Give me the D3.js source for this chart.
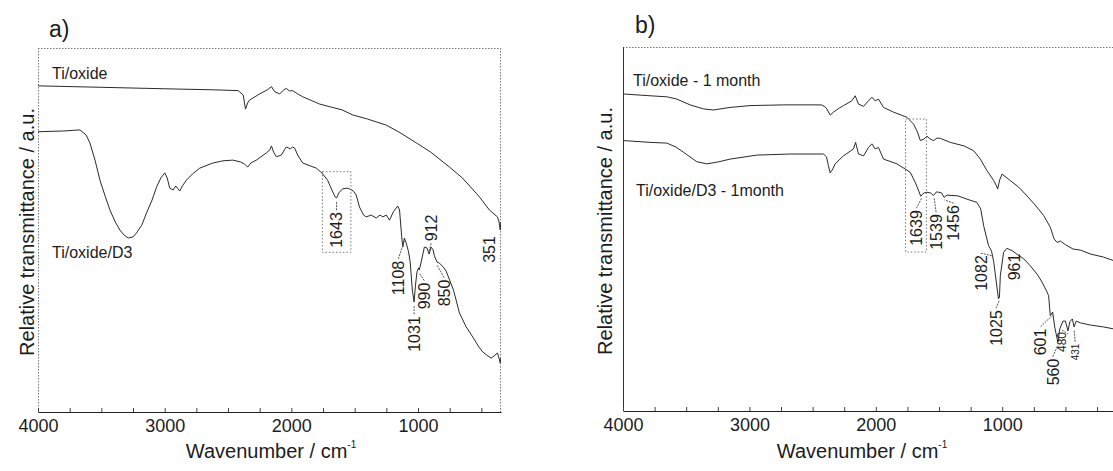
<!DOCTYPE html>
<html><head><meta charset="utf-8">
<script src="https://cdn.jsdelivr.net/npm/d3@7"></script>
<style>
body{margin:0;background:#fff}
svg{display:block}
text{font-family:"Liberation Sans",Arial,Helvetica,sans-serif;fill:#1c1c1c}
</style>
</head><body>
<svg id="chart" width="1113" height="471"></svg>
<script>
// ---------- DATA (wavenumber cm-1, relative transmittance a.u.) ----------
const aOxide = [[4000,89.6],[3500,89.2],[3000,88.8],[2600,88.5],[2420,88.3],[2380,87.1],[2362,83.2],[2345,84.9],[2330,85.7],[2250,87.4],[2190,88.5],[2157,89.4],[2132,88.0],[2092,87.4],[2060,88.5],[2040,88.9],[2015,88.2],[1990,88.3],[1950,87.4],[1910,86.6],[1850,85.7],[1777,84.6],[1700,83.9],[1600,83.0],[1515,81.6],[1400,80.5],[1250,78.8],[1150,76.9],[1012,73.9],[900,71.4],[752,67.3],[650,64.3],[515,59.1],[437,55.5],[400,54.4],[373,53.6],[360,52.2],[351,50.0],[346,52.2]];
const aOxideD3 = [[4000,77.0],[3800,77.2],[3669,77.5],[3620,76.1],[3590,73.9],[3550,69.2],[3511,63.7],[3470,59.3],[3432,55.5],[3390,52.2],[3354,50.0],[3320,48.6],[3288,47.8],[3250,48.1],[3222,49.2],[3180,51.4],[3143,54.7],[3100,58.2],[3064,61.8],[3030,64.3],[2999,65.7],[2980,64.3],[2960,61.5],[2933,61.0],[2912,62.1],[2881,60.7],[2860,62.1],[2828,63.7],[2780,65.4],[2723,67.0],[2620,68.4],[2540,69.0],[2463,69.2],[2400,68.7],[2370,68.1],[2344,67.3],[2320,68.4],[2276,69.2],[2197,71.2],[2170,72.0],[2157,73.1],[2140,71.4],[2118,70.1],[2079,70.6],[2055,72.0],[2040,72.8],[2020,72.5],[2008,72.3],[1990,72.8],[1974,72.5],[1950,70.6],[1910,68.4],[1850,67.6],[1803,67.0],[1760,65.7],[1714,63.7],[1680,61.0],[1655,59.1],[1643,58.8],[1625,60.2],[1596,61.3],[1560,61.5],[1541,61.3],[1510,60.7],[1488,59.6],[1462,56.3],[1430,54.1],[1409,53.6],[1370,54.1],[1330,53.3],[1300,54.1],[1278,53.6],[1250,54.1],[1225,52.7],[1195,55.0],[1160,56.6],[1146,55.5],[1130,48.6],[1120,45.3],[1108,47.8],[1093,46.4],[1075,44.0],[1062,41.2],[1045,33.5],[1031,30.2],[1020,34.9],[1008,38.5],[995,39.6],[990,39.0],[975,41.2],[950,45.3],[930,45.1],[912,43.4],[897,45.3],[880,44.5],[871,42.9],[850,41.2],[831,40.9],[800,39.8],[778,38.7],[720,33.5],[673,27.2],[620,23.4],[568,20.6],[520,17.9],[489,16.5],[460,15.7],[423,14.8],[400,15.4],[373,16.2],[360,14.8],[352,13.5],[346,14.8]];
const bOxide = [[4000,87.1],[3786,86.6],[3650,86.3],[3575,85.7],[3469,84.1],[3364,83.0],[3285,82.7],[3153,83.4],[2995,83.9],[2731,84.1],[2430,84.1],[2400,83.5],[2388,83.0],[2361,81.3],[2335,82.1],[2290,83.2],[2256,83.9],[2190,85.2],[2163,86.6],[2137,84.3],[2097,83.7],[2058,85.2],[2031,86.2],[2005,85.2],[1979,85.7],[1939,83.4],[1860,82.1],[1754,80.7],[1701,78.8],[1670,76.6],[1648,74.3],[1620,74.7],[1595,75.5],[1570,74.7],[1542,74.3],[1515,75.0],[1490,74.9],[1411,73.8],[1300,72.8],[1226,71.5],[1173,69.2],[1120,66.0],[1067,63.3],[1045,61.8],[1036,61.0],[1020,63.5],[1001,65.1],[936,63.3],[870,61.5],[804,59.1],[740,56.6],[672,53.7],[620,50.5],[590,47.3],[566,46.3],[540,46.7],[501,45.7],[440,44.5],[380,44.2],[300,43.1],[200,42.3],[110,41.2]];
const bOxideD3 = [[4000,74.3],[3786,73.8],[3654,73.6],[3580,72.5],[3522,71.1],[3417,68.5],[3337,67.9],[3250,68.4],[3153,69.2],[2942,70.3],[2678,70.6],[2414,70.6],[2390,69.8],[2375,67.4],[2361,65.4],[2340,66.5],[2322,67.9],[2256,70.1],[2177,72.0],[2160,73.8],[2137,70.6],[2097,70.1],[2058,72.4],[2031,73.4],[2005,72.0],[1979,72.4],[1939,69.2],[1833,67.9],[1728,65.6],[1688,62.8],[1660,60.4],[1645,59.0],[1620,59.9],[1595,60.1],[1565,59.9],[1545,59.2],[1520,60.2],[1503,60.1],[1480,59.9],[1460,58.7],[1437,59.3],[1350,59.1],[1279,58.2],[1200,57.3],[1170,55.5],[1147,50.9],[1108,45.4],[1085,44.0],[1067,40.9],[1045,34.9],[1030,30.8],[1022,31.3],[1015,37.2],[989,43.6],[963,44.7],[920,44.0],[884,43.1],[830,41.8],[778,39.9],[720,37.4],[685,35.4],[650,33.0],[633,31.7],[620,26.2],[601,27.2],[585,23.1],[560,18.9],[545,22.5],[520,24.7],[500,24.7],[480,22.0],[465,24.5],[445,25.3],[432,23.1],[415,24.7],[380,24.2],[300,23.6],[200,23.1],[110,22.5]];

const xTickValues = d3.range(4000, 0, -250);
const xTickLabels = [4000, 3000, 2000, 1000];

const aSeriesNames = ["Ti/oxide", "Ti/oxide/D3"];
const bSeriesNames = ["Ti/oxide - 1 month", "Ti/oxide/D3 - 1month"];
const aPeakLabels = ["1643","1108","1031","990","912","850","351"];
const aPeakSeries = [1,1,1,1,1,1,0];
const bPeakLabels = ["1639","1539","1456","1082","961","1025","601","560","480","431"];
const bPeakSeries = [1,1,1,1,1,1,1,1,1,1];

// ---------- LAYOUT ----------
const svg = d3.select("#chart");
const panels = [
  {id:"a", tag:"a)", series:[aOxide, aOxideD3], names:aSeriesNames,
   peaks:aPeakLabels, peakSeries:aPeakSeries,
   domain:[4000,345], range:[38,501], top:48, bottom:412, leftDotted:true, rightEdge:true,
   tagPos:[49,37], namePos:[[52,79],[52,258]], yTitleX:34, xTitleX:271,
   box:[1755,1530,171.7,252.3],
   lbl:[[0,230,16,0],[-6,278,16,0],[0,334,16,0],[5,296,16,0],[2,228,16,1],[7,293,16,0],[-11,249.5,16,0]]},
  {id:"b", tag:"b)", series:[bOxide, bOxideD3], names:bSeriesNames,
   peaks:bPeakLabels, peakSeries:bPeakSeries,
   domain:[4000,100], range:[623,1116], top:47, bottom:411, leftDotted:false, rightEdge:true,
   tagPos:[635,33], namePos:[[633,86],[636,196]], yTitleX:612, xTitleX:862,
   box:[1765,1600,119,252],
   lbl:[[-5,228,16,0],[2,232,16,0],[9,223,16,0],[-11,273,16,0],[7,267,16,0],[-3,328,16,0],[-12,342,16,0],[-5,372,16,0],[-6,342,12,0],[1,352,10,0]]}
];

const ink = "#2a2a2a";

panels.forEach(p => {
  const x = d3.scaleLinear().domain(p.domain).range(p.range);
  const y = d3.scaleLinear().domain([0,100]).range([p.bottom, p.top]);
  const g = svg.append("g");

  // frame
  const frame = g.append("g").attr("fill","none").attr("stroke","#777").attr("stroke-width",1);
  frame.append("line").attr("x1",p.range[0]).attr("x2",p.range[1]).attr("y1",p.top+0.5).attr("y2",p.top+0.5)
    .attr("stroke-dasharray","1.5,1.5");
  frame.append("line").attr("x1",p.range[0]+0.5).attr("x2",p.range[0]+0.5).attr("y1",p.top).attr("y2",p.bottom)
    .attr("stroke",p.leftDotted?"#777":"#333").attr("stroke-dasharray",p.leftDotted?"1.5,1.5":null);
  if (p.rightEdge) frame.append("line").attr("x1",p.range[1]-0.5).attr("x2",p.range[1]-0.5).attr("y1",p.top).attr("y2",p.bottom)
    .attr("stroke-dasharray","1.5,1.5");

  // x axis
  const ax = d3.axisBottom(x).tickValues(xTickValues.filter(v => v <= p.domain[0] && v >= p.domain[1]))
    .tickSizeInner(-4).tickSizeOuter(0).tickPadding(7)
    .tickFormat(d => xTickLabels.includes(d) ? d : "");
  const axg = g.append("g").attr("transform",`translate(0,${p.bottom})`).call(ax);
  axg.select(".domain").attr("stroke","#222").attr("stroke-width",1.2);
  axg.selectAll(".tick line").attr("stroke","#444");
  axg.selectAll(".tick text").attr("font-size",18).attr("fill","#1c1c1c")
    .style("font-family",'"Liberation Sans",Arial,sans-serif');

  // axis titles
  const xt = g.append("text").attr("x",p.xTitleX).attr("y",458).attr("text-anchor","middle").attr("font-size",20);
  xt.append("tspan").text("Wavenumber / cm");
  xt.append("tspan").attr("font-size",10).attr("dy",-10).text("-1");
  g.append("text").attr("transform",`translate(${p.yTitleX},${(p.top+p.bottom)/2+2}) rotate(-90)`)
    .attr("text-anchor","middle").attr("font-size",20).text("Relative transmittance / a.u.");

  // panel tag
  g.append("text").attr("x",p.tagPos[0]).attr("y",p.tagPos[1]).attr("font-size",23).text(p.tag);

  // curves
  const line = d3.line().x(d => x(d[0])).y(d => y(d[1]));
  const clipId = "clip"+p.id;
  g.append("clipPath").attr("id",clipId).append("rect")
    .attr("x",p.range[0]).attr("y",p.top).attr("width",p.range[1]-p.range[0]).attr("height",p.bottom-p.top);
  p.series.forEach(s => {
    g.append("path").datum(s).attr("d",line).attr("fill","none").attr("stroke",ink)
      .attr("stroke-width",1).attr("stroke-linejoin","round").attr("clip-path",`url(#${clipId})`);
  });

  // series names
  p.names.forEach((n,i) => {
    g.append("text").attr("x",p.namePos[i][0]).attr("y",p.namePos[i][1]).attr("font-size",16).text(n);
  });

  // dotted highlight box
  g.append("rect").attr("x",x(p.box[0])).attr("y",p.box[2])
    .attr("width",x(p.box[1])-x(p.box[0])).attr("height",p.box[3]-p.box[2])
    .attr("fill","none").attr("stroke","#777").attr("stroke-dasharray","1.5,2");

  // peak annotations
  const interp = (s, w) => {
    for (let i=0;i<s.length-1;i++){
      const a=s[i], b=s[i+1];
      if (w<=a[0] && w>=b[0]) { const t=(a[0]-w)/(a[0]-b[0]); return a[1]+t*(b[1]-a[1]); }
    }
    return s[s.length-1][1];
  };
  p.peaks.forEach((lab,i) => {
    const w = +lab;
    const [dx, cy, fs, above] = p.lbl[i];
    const xc = x(w) + dx;
    const t = g.append("text").attr("transform",`translate(${xc},${cy}) rotate(-90)`)
      .attr("text-anchor","middle").attr("dy","0.36em").attr("font-size",fs).text(lab);
    const half = t.node().getComputedTextLength()/2;
    const cyCurve = y(interp(p.series[p.peakSeries[i]], w));
    const y1 = above ? cy + half + 2 : cy - half - 2;
    const y2 = above ? cyCurve - 3 : cyCurve + 3;
    if (Math.abs(y1-y2) > 2)
      g.append("line").attr("x1",xc).attr("y1",y1).attr("x2",x(w)).attr("y2",y2)
        .attr("stroke","#555").attr("stroke-width",1).attr("stroke-dasharray","2,1");
  });
});
</script>
</body></html>
